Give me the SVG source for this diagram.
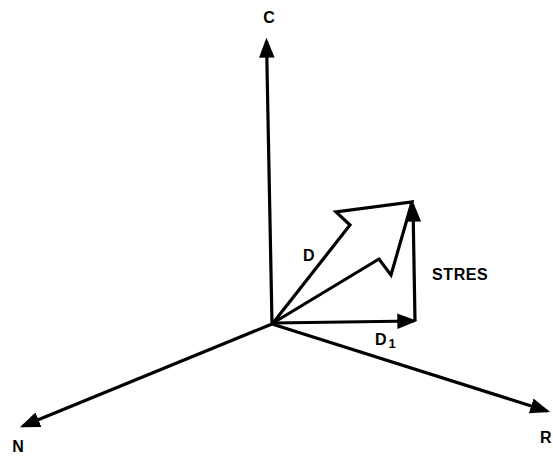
<svg xmlns="http://www.w3.org/2000/svg" width="553" height="456" viewBox="0 0 553 456">
<style>
.ln{stroke:#000;stroke-width:3.2;fill:none;stroke-linejoin:miter}
.ax{marker-end:url(#ah)}
.lb{font-family:"Liberation Sans",Arial,sans-serif;font-weight:bold;font-size:16px;fill:#000}
</style>
<defs>
<marker id="ah" markerUnits="userSpaceOnUse" markerWidth="20" markerHeight="16" refX="15" refY="7" orient="auto" viewBox="0 0 18 14">
<path d="M0,0 L18,7 L0,14 Z" fill="#000"/>
</marker>
</defs>
<rect width="553" height="456" fill="#fff"/>
<g id="connectors">
<line class="ln ax" x1="272" y1="324" x2="266.5" y2="41"/>
<line class="ln ax" x1="272" y1="324" x2="23" y2="426"/>
<line class="ln ax" x1="272" y1="324" x2="547" y2="411"/>
<line class="ln ax" x1="273" y1="323" x2="414" y2="321"/>
<line class="ln ax" x1="415" y1="321" x2="413" y2="205"/>
<path id="D-arrow" class="ln" d="M273,323 L350,225 L336,212 L412,202 L391,275 L379,259 Z"/>
</g>
<g id="node-C"><text class="lb" x="269" y="23" text-anchor="middle">C</text></g>
<g id="node-N"><text class="lb" x="18" y="452" text-anchor="middle">N</text></g>
<g id="node-R"><text class="lb" x="540" y="443">R</text></g>
<g id="node-D"><text class="lb" x="303" y="261">D</text></g>
<g id="node-STRES"><text class="lb" x="432" y="280" font-size="17" letter-spacing="0.6">STRES</text></g>
<g id="node-D1"><text class="lb" x="375" y="345">D<tspan font-size="13" dy="3" dx="2">1</tspan></text></g>
</svg>
